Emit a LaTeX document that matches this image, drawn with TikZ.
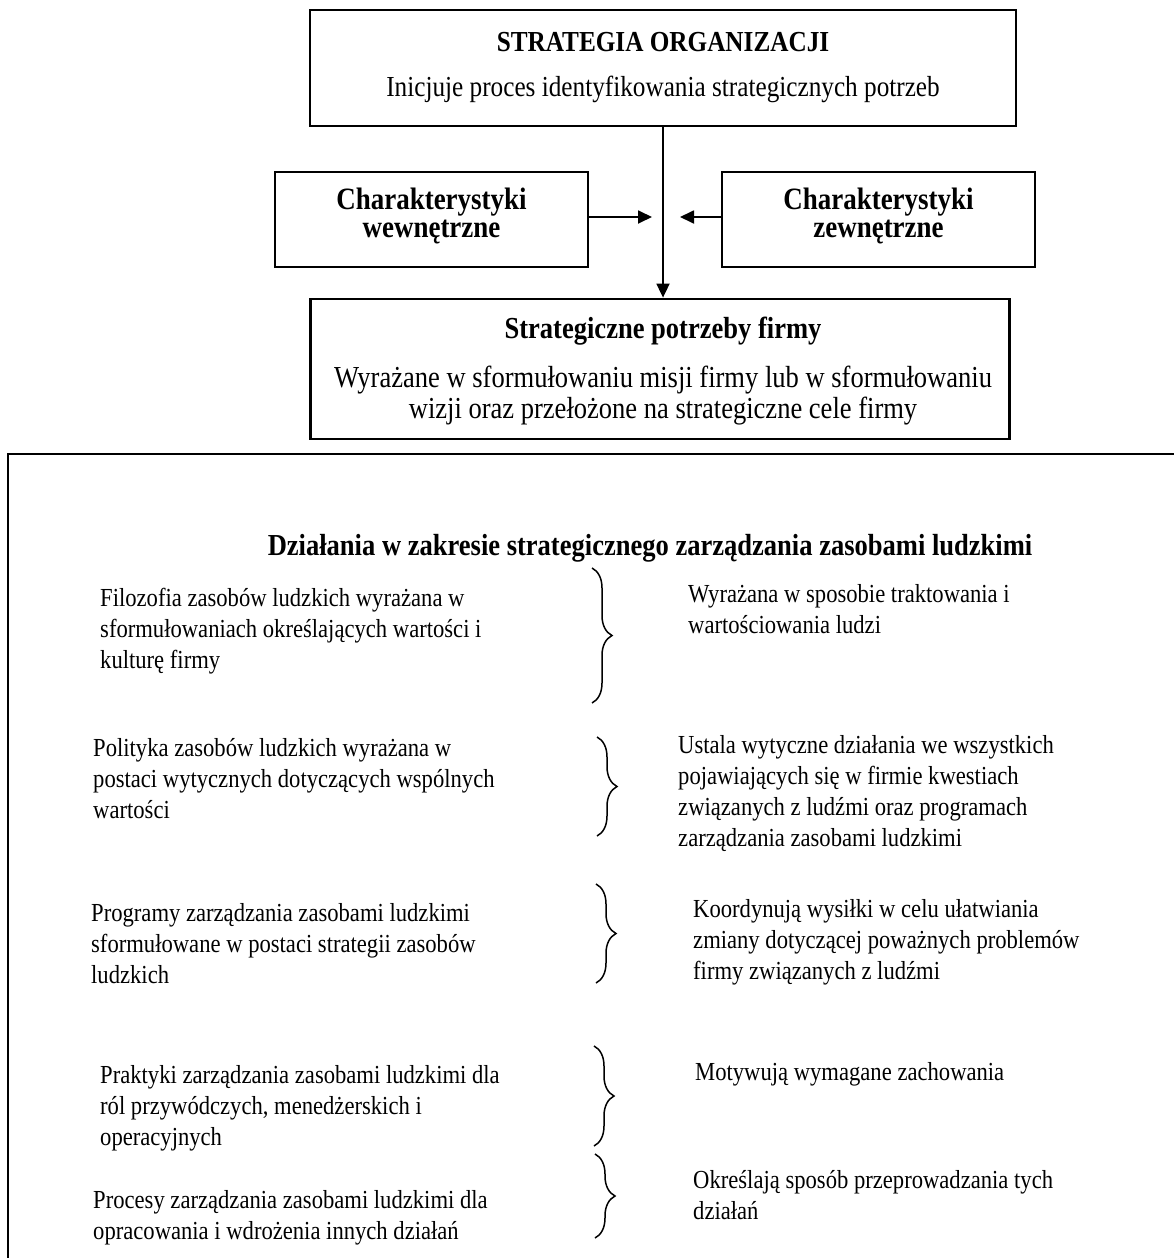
\documentclass[tikz,border=0pt]{standalone}
\usepackage{fontspec}
\setmainfont{Liberation Serif}[FakeStretch=0.87]
\usetikzlibrary{arrows.meta,decorations.pathreplacing}
\newcommand\bodyfont{\fontsize{26}{31}\selectfont}
\tikzset{
  frame/.style={draw, line width=2.8pt, inner sep=0pt, fill=none},
  flow/.style={line width=1.8pt, -{Triangle[length=14pt,width=13pt]}},
  label/.style={inner sep=0pt, anchor=base, align=center},
  para/.style={inner sep=0pt, anchor=base west, font=\bodyfont},
  curly/.style={decorate, decoration={brace, amplitude=20pt}, line width=1.5pt},
}
\begin{document}
\begin{tikzpicture}[x=1pt, y=-1pt]
\useasboundingbox (0,0) rectangle (1173,1258);
\fill[white] (0,0) rectangle (1173,1258);

% upper flow: strategy, characteristics, needs
\node[frame, minimum width=706pt, minimum height=116pt] (strat) at (663,68) {};
\node[label, font=\fontsize{29}{34}\selectfont\bfseries] (stratT) at (663,51) {STRATEGIA ORGANIZACJI};
\node[label, font=\fontsize{29}{34}\selectfont] (stratD) at (663,96) {Inicjuje proces identyfikowania strategicznych potrzeb};

\node[frame, minimum width=313pt, minimum height=95pt] (inner) at (431.5,219.5) {};
\node[label, font=\fontsize{31}{28}\selectfont\bfseries] (innerT) at (431.5,237) {Charakterystyki\\ wewnętrzne};

\node[frame, minimum width=313pt, minimum height=95pt] (outer) at (878.5,219.5) {};
\node[label, font=\fontsize{31}{28}\selectfont\bfseries] (outerT) at (878.5,237) {Charakterystyki\\ zewnętrzne};

\node[frame, minimum width=699pt, minimum height=140pt] (needs) at (660,369) {};
\node[label, font=\fontsize{30.5}{34}\selectfont\bfseries] (needsT) at (663,338) {Strategiczne potrzeby firmy};
\node[label, font=\fontsize{30.5}{31}\selectfont] (needsD) at (663,418) {Wyrażane w sformułowaniu misji firmy lub w sformułowaniu\\ wizji oraz przełożone na strategiczne cele firmy};

\coordinate (hitL) at (652,217);
\coordinate (hitR) at (680,217);
\draw[flow] (strat.south) -- (strat.south |- needs.north);
\draw[flow] (inner.east |- hitL) -- (hitL);
\draw[flow] (outer.west |- hitR) -- (hitR);

% lower frame, open to the right and bottom
\draw[line width=2.8pt] (1180,454) -- (8,454) -- (8,1265);

\node[label, font=\fontsize{30.5}{34}\selectfont\bfseries] (actT) at (650,555) {Działania w zakresie strategicznego zarządzania zasobami ludzkimi};

% row 1
\node[para] (l1) at (100,606) {\parbox[t]{480pt}{Filozofia zasobów ludzkich wyrażana w\\ sformułowaniach określających wartości i\\ kulturę firmy}};
\draw[curly] (592,568) -- (592,703);
\node[para] (r1) at (688,602) {\parbox[t]{470pt}{Wyrażana w sposobie traktowania i\\ wartościowania ludzi}};

% row 2
\node[para] (l2) at (93,756) {\parbox[t]{480pt}{Polityka zasobów ludzkich wyrażana w\\ postaci wytycznych dotyczących wspólnych\\ wartości}};
\draw[curly] (597,737) -- (597,836);
\node[para] (r2) at (678,753) {\parbox[t]{480pt}{Ustala wytyczne działania we wszystkich\\ pojawiających się w firmie kwestiach\\ związanych z ludźmi oraz programach\\ zarządzania zasobami ludzkimi}};

% row 3
\node[para] (l3) at (91,921) {\parbox[t]{480pt}{Programy zarządzania zasobami ludzkimi\\ sformułowane w postaci strategii zasobów\\ ludzkich}};
\draw[curly] (596,884) -- (596,983);
\node[para] (r3) at (693,917) {\parbox[t]{470pt}{Koordynują wysiłki w celu ułatwiania\\ zmiany dotyczącej poważnych problemów\\ firmy związanych z ludźmi}};

% row 4
\node[para] (l4) at (100,1083) {\parbox[t]{480pt}{Praktyki zarządzania zasobami ludzkimi dla\\ ról przywódczych, menedżerskich i\\ operacyjnych}};
\draw[curly] (594,1046) -- (594,1146);
\node[para] (r4) at (695,1080) {Motywują wymagane zachowania};

% row 5
\node[para] (l5) at (93,1208) {\parbox[t]{480pt}{Procesy zarządzania zasobami ludzkimi dla\\ opracowania i wdrożenia innych działań}};
\draw[curly] (595,1154) -- (595,1238);
\node[para] (r5) at (693,1188) {\parbox[t]{470pt}{Określają sposób przeprowadzania tych\\ działań}};
\end{tikzpicture}
\end{document}
